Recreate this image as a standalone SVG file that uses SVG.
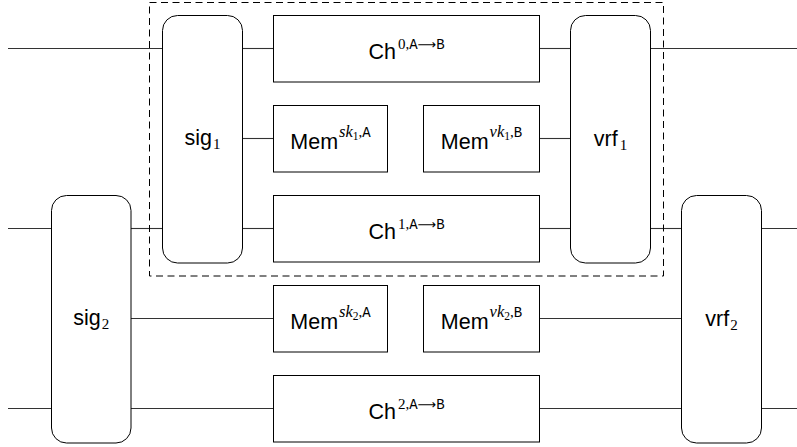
<svg xmlns="http://www.w3.org/2000/svg" width="797" height="447" viewBox="0 0 797 447">
<style>
.bg{fill:#fff}
.line{stroke:#333;stroke-width:1.1;fill:none}
.box{fill:#fff;stroke:#000;stroke-width:1}
.pill{fill:#fff;stroke:#000;stroke-width:1}
.dash{fill:none;stroke:#000;stroke-width:1;stroke-dasharray:7 4.5}
.lbl{font-family:"Liberation Sans","DejaVu Sans",sans-serif;font-size:21.5px;fill:#000}
.sup{font-size:15px;font-family:"Liberation Serif",serif}
.it{font-style:italic;font-size:16.5px}
.tt{font-family:"Liberation Mono","DejaVu Sans Mono",monospace;font-size:14px}
.ar{font-family:"DejaVu Sans",sans-serif;font-size:13px}
.sub{font-size:15px;font-family:"Liberation Serif",serif}
.ssub{font-size:11.5px;font-family:"Liberation Serif",serif}
</style>
<rect class="bg" x="0" y="0" width="797" height="447"/>
<g id="connectors">
<line class="line" x1="8" y1="48.5" x2="162.5" y2="48.5"/>
<line class="line" x1="242.5" y1="48.5" x2="273.5" y2="48.5"/>
<line class="line" x1="539.5" y1="48.5" x2="570.5" y2="48.5"/>
<line class="line" x1="650.5" y1="48.5" x2="797" y2="48.5"/>
<line class="line" x1="242.5" y1="138.5" x2="273.5" y2="138.5"/>
<line class="line" x1="539.5" y1="138.5" x2="570.5" y2="138.5"/>
<line class="line" x1="8" y1="228.5" x2="51.5" y2="228.5"/>
<line class="line" x1="131" y1="228.5" x2="162.5" y2="228.5"/>
<line class="line" x1="242.5" y1="228.5" x2="273.5" y2="228.5"/>
<line class="line" x1="539.5" y1="228.5" x2="570.5" y2="228.5"/>
<line class="line" x1="650.5" y1="228.5" x2="681.5" y2="228.5"/>
<line class="line" x1="761.5" y1="228.5" x2="797" y2="228.5"/>
<line class="line" x1="131" y1="318.5" x2="273.5" y2="318.5"/>
<line class="line" x1="539.5" y1="318.5" x2="681.5" y2="318.5"/>
<line class="line" x1="8" y1="408.5" x2="51.5" y2="408.5"/>
<line class="line" x1="131" y1="408.5" x2="273.5" y2="408.5"/>
<line class="line" x1="539.5" y1="408.5" x2="681.5" y2="408.5"/>
<line class="line" x1="761.5" y1="408.5" x2="797" y2="408.5"/>
</g>
<rect id="group1" class="dash" x="149.5" y="2.5" width="514" height="273.5"/>
<g id="sig1">
<rect class="pill" x="162.5" y="15.5" width="80" height="247.5" rx="15"/>
<text class="lbl" x="202.5" y="145" text-anchor="middle">sig<tspan class="sub" dx="1" dy="4">1</tspan></text>
</g>
<g id="sig2">
<rect class="pill" x="51.5" y="195.5" width="79.5" height="247.5" rx="15"/>
<text class="lbl" x="91.2" y="325" text-anchor="middle">sig<tspan class="sub" dx="1" dy="4">2</tspan></text>
</g>
<g id="vrf1">
<rect class="pill" x="570.5" y="15.5" width="80" height="247.5" rx="15"/>
<text class="lbl" x="610.5" y="146" text-anchor="middle">vrf<tspan class="sub" dx="2" dy="4">1</tspan></text>
</g>
<g id="vrf2">
<rect class="pill" x="681.5" y="195.5" width="80" height="247.5" rx="15"/>
<text class="lbl" x="721.5" y="326" text-anchor="middle">vrf<tspan class="sub" dx="1" dy="4">2</tspan></text>
</g>
<g id="ch0">
<rect class="box" x="273.5" y="15.5" width="266" height="66.5"/>
<text class="lbl" x="406.5" y="59" text-anchor="middle">Ch<tspan class="sup" dx="2" dy="-10">0,</tspan><tspan class="tt">A</tspan><tspan class="ar">⟶</tspan><tspan class="tt">B</tspan></text>
</g>
<g id="memsk1">
<rect class="box" x="273.5" y="105.5" width="114" height="66.5"/>
<text class="lbl" x="330.5" y="149" text-anchor="middle">Mem<tspan class="sup it" dx="1" dy="-12">sk</tspan><tspan class="ssub" dy="3">1</tspan><tspan class="sup" dy="-3">,</tspan><tspan class="tt">A</tspan></text>
</g>
<g id="memvk1">
<rect class="box" x="423.5" y="105.5" width="116" height="66.5"/>
<text class="lbl" x="481.5" y="149" text-anchor="middle">Mem<tspan class="sup it" dx="1" dy="-12">vk</tspan><tspan class="ssub" dy="3">1</tspan><tspan class="sup" dy="-3">,</tspan><tspan class="tt">B</tspan></text>
</g>
<g id="ch1">
<rect class="box" x="273.5" y="195.5" width="266" height="66.5"/>
<text class="lbl" x="406.5" y="239" text-anchor="middle">Ch<tspan class="sup" dx="2" dy="-10">1,</tspan><tspan class="tt">A</tspan><tspan class="ar">⟶</tspan><tspan class="tt">B</tspan></text>
</g>
<g id="memsk2">
<rect class="box" x="273.5" y="285.5" width="114" height="66.5"/>
<text class="lbl" x="330.5" y="329" text-anchor="middle">Mem<tspan class="sup it" dx="1" dy="-12">sk</tspan><tspan class="ssub" dy="3">2</tspan><tspan class="sup" dy="-3">,</tspan><tspan class="tt">A</tspan></text>
</g>
<g id="memvk2">
<rect class="box" x="423.5" y="285.5" width="116" height="66.5"/>
<text class="lbl" x="481.5" y="329" text-anchor="middle">Mem<tspan class="sup it" dx="1" dy="-12">vk</tspan><tspan class="ssub" dy="3">2</tspan><tspan class="sup" dy="-3">,</tspan><tspan class="tt">B</tspan></text>
</g>
<g id="ch2">
<rect class="box" x="273.5" y="375.5" width="266" height="66.5"/>
<text class="lbl" x="406.5" y="419" text-anchor="middle">Ch<tspan class="sup" dx="2" dy="-10">2,</tspan><tspan class="tt">A</tspan><tspan class="ar">⟶</tspan><tspan class="tt">B</tspan></text>
</g>
</svg>
